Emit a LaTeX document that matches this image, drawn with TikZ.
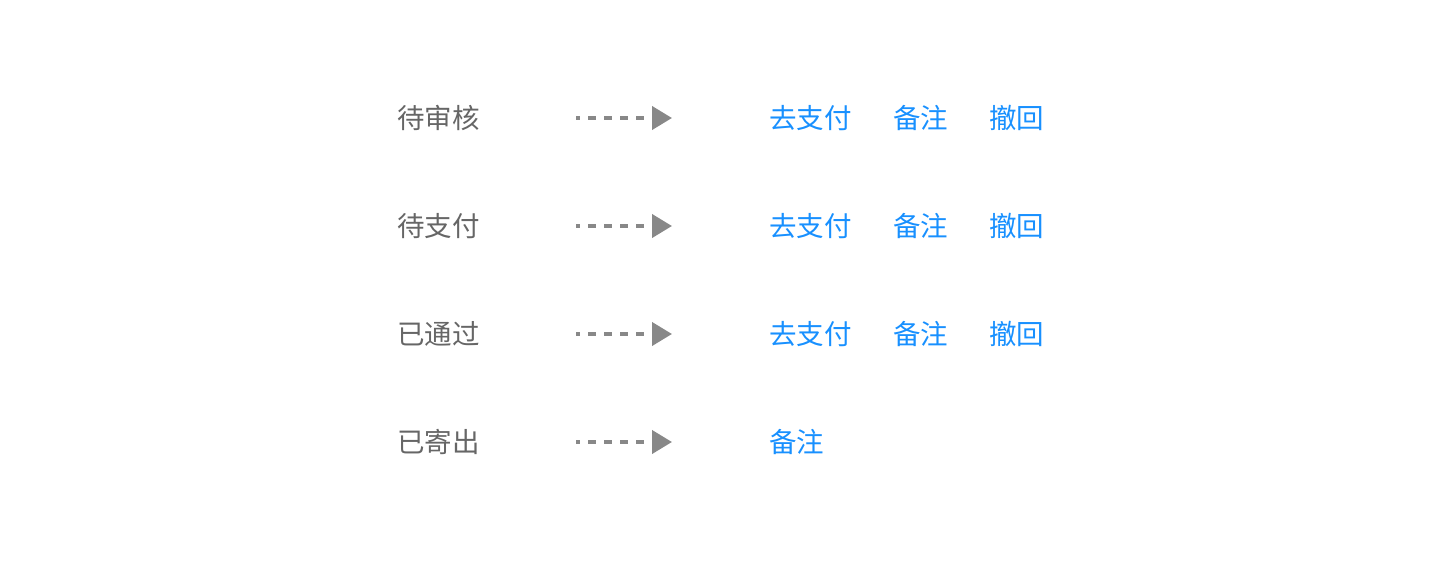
\documentclass[tikz,border=0pt]{standalone}
\usepackage{fontspec}
\newfontfamily\cjk{Noto Sans CJK SC}
\usetikzlibrary{arrows.meta}
\definecolor{labelgray}{HTML}{666666}
\definecolor{arrowgray}{HTML}{888888}
\definecolor{linkblue}{HTML}{1890FF}
\tikzset{
  state/.style={anchor=base west, inner sep=0pt, text=labelgray, font=\cjk\fontsize{27.5}{30}\selectfont},
  action/.style={anchor=base west, inner sep=0pt, text=linkblue, font=\cjk\fontsize{27.5}{30}\selectfont},
  flow/.style={draw=arrowgray, line width=4pt,
    dash pattern=on 4pt off 8pt on 8pt off 8pt on 8pt off 8pt on 8pt off 8pt on 8pt off 40pt,
    -{Triangle[length=20pt,width=23pt]}}
}
\begin{document}
\begin{tikzpicture}[x=1pt,y=-1pt]
\useasboundingbox (0,0) rectangle (1440,560);
% row 1
\node[state] (s1) at (397,128) {待审核};
\coordinate (a1) at (576,118);
\coordinate (b1) at (672,118);
\draw[flow] (a1) -- (b1);
\node[action] (p1) at (769,128) {去支付};
\node[action] (n1) at (893,128) {备注};
\node[action] (r1) at (989,128) {撤回};
% row 2
\node[state] (s2) at (397,236) {待支付};
\coordinate (a2) at (576,226);
\coordinate (b2) at (672,226);
\draw[flow] (a2) -- (b2);
\node[action] (p2) at (769,236) {去支付};
\node[action] (n2) at (893,236) {备注};
\node[action] (r2) at (989,236) {撤回};
% row 3
\node[state] (s3) at (397,344) {已通过};
\coordinate (a3) at (576,334);
\coordinate (b3) at (672,334);
\draw[flow] (a3) -- (b3);
\node[action] (p3) at (769,344) {去支付};
\node[action] (n3) at (893,344) {备注};
\node[action] (r3) at (989,344) {撤回};
% row 4
\node[state] (s4) at (397,452) {已寄出};
\coordinate (a4) at (576,442);
\coordinate (b4) at (672,442);
\draw[flow] (a4) -- (b4);
\node[action] (n4) at (769,452) {备注};
\end{tikzpicture}
\end{document}
